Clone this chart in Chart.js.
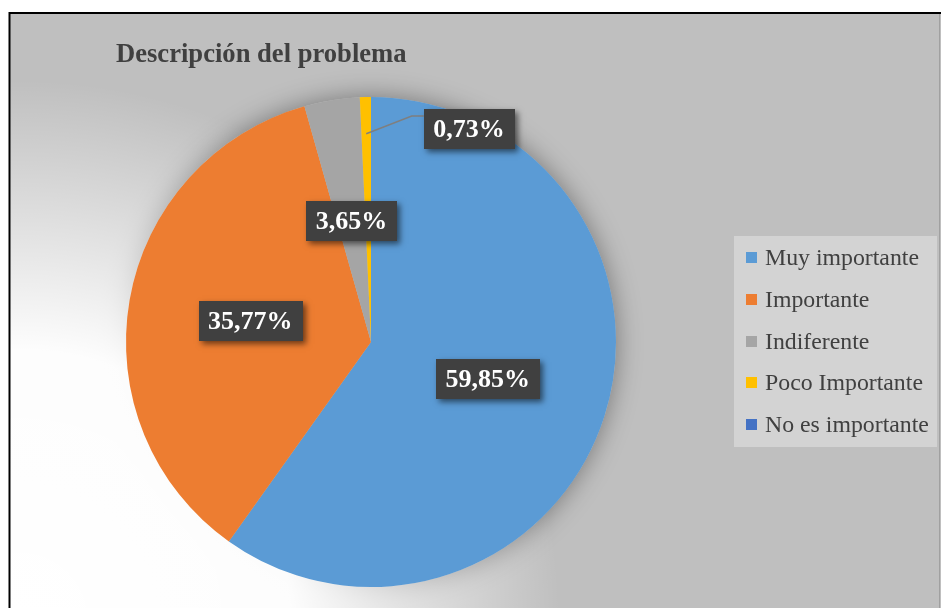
<!DOCTYPE html>
<html><head><meta charset="utf-8">
<script src="https://cdn.jsdelivr.net/npm/chart.js@4/dist/chart.umd.min.js"></script>
<style>html,body{margin:0;padding:0;background:#fff;overflow:hidden}</style>
</head><body>
<canvas id="c" width="941" height="608" style="display:block;width:941px;height:608px"></canvas>
<script>
const chartTitle = 'Descripción del problema';
const categories = ['Muy importante', 'Importante', 'Indiferente', 'Poco Importante', 'No es importante'];
const percentages = [59.85, 35.77, 3.65, 0.73, 0];
const sliceColors = ['#5B9BD5', '#ED7D31', '#A5A5A5', '#FFC000', '#4472C4'];

const SERIF = '"Liberation Serif", "Times New Roman", serif';
const fmt = v => v.toFixed(2).replace('.', ',') + '%';

const decorPlugin = {
  id: 'decor',
  beforeDraw(chart) {
    const ctx = chart.ctx, W = chart.width, H = chart.height;
    const arc = chart.getDatasetMeta(0).data[0];
    const cx = arc.x, cy = arc.y, r = arc.outerRadius;
    ctx.save();
    ctx.fillStyle = '#fff';
    ctx.fillRect(0, 0, W, H);
    ctx.beginPath();
    ctx.rect(9, 12, W, H);
    ctx.clip();
    ctx.fillStyle = '#bfbfbf';
    ctx.fillRect(0, 0, W, H);
    // pie shadow
    ctx.save();
    ctx.shadowColor = 'rgba(0,0,0,0.38)';
    ctx.shadowBlur = 26;
    ctx.fillStyle = '#bfbfbf';
    ctx.beginPath();
    ctx.arc(cx, cy, r, 0, Math.PI * 2);
    ctx.fill();
    ctx.restore();
    // white glow bottom-left, outside the pie
    ctx.save();
    ctx.beginPath();
    ctx.rect(0, 0, W, H);
    ctx.arc(cx, cy, r - 1, 0, Math.PI * 2);
    ctx.clip('evenodd');
    const g = ctx.createRadialGradient(20, 620, 0, 20, 620, 540);
    g.addColorStop(0, 'rgba(255,255,255,1)');
    g.addColorStop(0.5, 'rgba(255,255,255,0.97)');
    g.addColorStop(1, 'rgba(255,255,255,0)');
    ctx.fillStyle = g;
    ctx.fillRect(0, 0, W, H);
    ctx.restore();
    ctx.restore();
  },
  afterDatasetsDraw(chart, args, opts) {
    const ctx = chart.ctx;
    const meta = chart.getDatasetMeta(0);
    const data = chart.data.datasets[0].data;
    const first = meta.data[0];
    const cx = first.x, cy = first.y, r = first.outerRadius;
    ctx.save();
    ctx.font = 'bold 26px ' + SERIF;
    ctx.textAlign = 'center';
    ctx.textBaseline = 'middle';
    meta.data.forEach((a, i) => {
      const v = data[i];
      if (!v) return;
      const mid = (a.startAngle + a.endAngle) / 2;
      const text = fmt(v);
      const tw = ctx.measureText(text).width;
      const bw = tw + 19, bh = 40;
      let bx, by;
      const out = opts.outside && opts.outside[i];
      if (out) {
        bx = cx + out.dx; by = cy + out.dy;
        const sx = cx + Math.cos(mid) * r * 0.85, sy = cy + Math.sin(mid) * r * 0.85;
        const left = bx - bw / 2, top = by - bh / 2;
        ctx.save();
        ctx.strokeStyle = '#7f7f7f';
        ctx.lineWidth = 1.5;
        ctx.beginPath();
        ctx.moveTo(sx, sy);
        ctx.lineTo(left - 12, top + 7);
        ctx.lineTo(left, top + 7);
        ctx.stroke();
        ctx.restore();
      } else {
        bx = cx + Math.cos(mid) * r * 0.5;
        by = cy + Math.sin(mid) * r * 0.5;
      }
      ctx.save();
      ctx.shadowColor = 'rgba(0,0,0,0.55)';
      ctx.shadowBlur = 6;
      ctx.shadowOffsetX = 3;
      ctx.shadowOffsetY = 3;
      ctx.fillStyle = '#404040';
      ctx.fillRect(Math.round(bx - bw / 2), Math.round(by - bh / 2), Math.round(bw), bh);
      ctx.restore();
      ctx.fillStyle = '#ffffff';
      ctx.fillText(text, bx, by + 1);
    });
    ctx.restore();
  },
  afterDraw(chart) {
    const ctx = chart.ctx;
    ctx.save();
    // title
    ctx.fillStyle = '#404040';
    ctx.font = 'bold 26.6px ' + SERIF;
    ctx.textAlign = 'left';
    ctx.textBaseline = 'alphabetic';
    ctx.fillText(chartTitle, 116, 62);
    // legend
    ctx.fillStyle = '#d3d3d3';
    ctx.fillRect(734, 236, 203, 211);
    ctx.font = '23.8px ' + SERIF;
    chart.data.labels.forEach((lab, i) => {
      const y = 252 + i * 41.8;
      ctx.fillStyle = chart.data.datasets[0].backgroundColor[i];
      ctx.fillRect(746, Math.round(y), 11, 11);
      ctx.fillStyle = '#404040';
      ctx.fillText(lab, 765, Math.round(y) + 12.5);
    });
    // frame
    ctx.strokeStyle = '#000';
    ctx.lineWidth = 2;
    ctx.beginPath();
    ctx.moveTo(9.5, 700);
    ctx.lineTo(9.5, 13);
    ctx.lineTo(941, 13);
    ctx.stroke();
    ctx.strokeStyle = '#a0a0a0';
    ctx.lineWidth = 1;
    ctx.beginPath();
    ctx.moveTo(939.5, 14);
    ctx.lineTo(939.5, 608);
    ctx.stroke();
    ctx.restore();
  }
};

new Chart(document.getElementById('c'), {
  type: 'pie',
  data: {
    labels: categories,
    datasets: [{
      data: percentages,
      backgroundColor: sliceColors,
      borderWidth: 0,
      hoverOffset: 0
    }]
  },
  options: {
    responsive: false,
    animation: false,
    events: [],
    layout: { padding: { left: 126, right: 325, top: 97, bottom: 21 } },
    plugins: {
      legend: { display: false },
      title: { display: false },
      tooltip: { enabled: false },
      decor: { outside: { 3: { dx: 98, dy: -213 } } }
    }
  },
  plugins: [decorPlugin]
});
</script>
</body></html>
